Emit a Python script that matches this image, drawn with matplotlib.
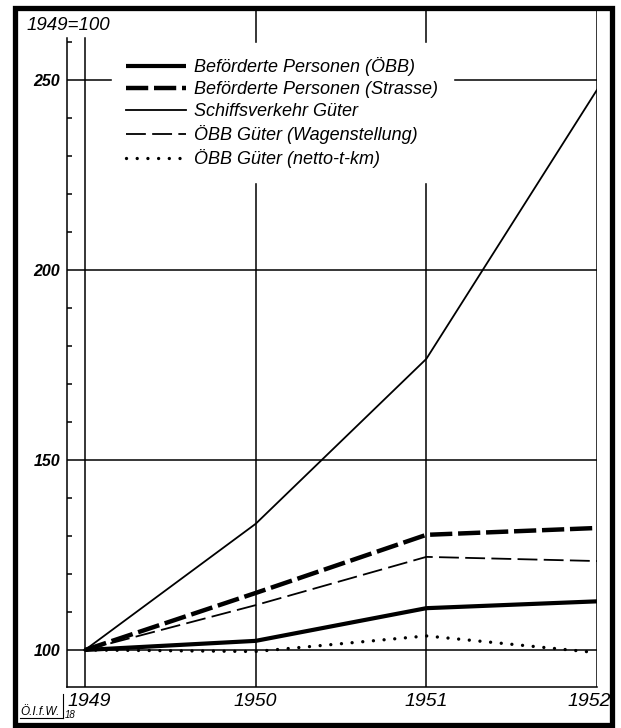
import numpy as np
import matplotlib.pyplot as plt
import matplotlib.transforms as mtransforms
from matplotlib.patches import Rectangle
from matplotlib.lines import Line2D

plt.rcParams['font.family'] = ['Liberation Sans', 'DejaVu Sans']

years = [1949, 1950, 1951, 1952]
personen_oebb = [100, 102.4, 111, 112.8]
personen_strasse = [100, 115, 130.3, 132.1]
schiff_gueter = [100, 133.2, 176.6, 247.4]
oebb_wagen = [100, 111.8, 124.5, 123.4]
oebb_netto = [100, 99.6, 103.7, 99.3]

labels = ['Beförderte Personen (ÖBB)', 'Beförderte Personen (Strasse)',
          'Schiffsverkehr Güter', 'ÖBB Güter (Wagenstellung)',
          'ÖBB Güter (netto-t-km)']
yticks_major = [100, 150, 200, 250]
yticks_minor = [110, 120, 130, 140, 160, 170, 180, 190, 210, 220, 230, 240, 260]

W, H = 621, 728
fig = plt.figure(figsize=(W / 100, H / 100), dpi=100)
ax = fig.add_axes([67 / W, 1 - 687 / H, (597 - 67) / W, (687 - 10) / H])
ax.set_xlim(1949 - 18 / 170.67, 1952)
ax.set_ylim(90.26, 268.4)

# grid
for v in yticks_major:
    ax.axhline(v, color='black', lw=1.1, zorder=1)
for yr in years[1:]:
    ax.axvline(yr, color='black', lw=1.1, zorder=1)
ax.plot([1949, 1949], [90.26, 261], color='black', lw=1.1, zorder=1)

ax.plot(years, personen_oebb, color='black', lw=3.0, solid_capstyle='butt',
        label=labels[0], zorder=3)
ax.plot(years, personen_strasse, color='black', lw=3.2,
        linestyle=(0, (5.0, 1.3)), label=labels[1], zorder=3)
ax.plot(years, schiff_gueter, color='black', lw=1.3, label=labels[2], zorder=3)
ax.plot(years, oebb_wagen, color='black', lw=1.3,
        linestyle=(0, (11, 3.5)), label=labels[3], zorder=3)
ax.plot(years, oebb_netto, color='black', lw=2.4,
        linestyle=(0, (0.01, 3.2)), dash_capstyle='round', label=labels[4], zorder=3)

for s in ['top', 'right']:
    ax.spines[s].set_visible(False)
ax.spines['left'].set_bounds(90.26, 261)
ax.spines['left'].set_linewidth(1.1)
ax.spines['bottom'].set_linewidth(1.1)

ax.set_yticks(yticks_major)
ax.set_yticks(yticks_minor, minor=True)
ax.tick_params(axis='y', which='major', length=0, pad=5, labelsize=11.5)
ax.tick_params(axis='y', which='minor', direction='in', length=3.6, width=1.1)
for t in ax.get_yticklabels():
    t.set_fontstyle('italic')
    t.set_fontweight('bold')

ax.set_xticks(years)
ax.set_xticklabels([str(y) for y in years])
ax.tick_params(axis='x', length=0, pad=4, labelsize=14)
xl = ax.get_xticklabels()
for t in xl:
    t.set_fontstyle('italic')
xl[0].set_transform(xl[0].get_transform() + mtransforms.ScaledTranslation(4 / 100, 0, fig.dpi_scale_trans))
xl[-1].set_transform(xl[-1].get_transform() + mtransforms.ScaledTranslation(-8 / 100, 0, fig.dpi_scale_trans))

leg = ax.legend(loc='upper left', bbox_to_anchor=(112 / W, 1 - 43 / H),
                bbox_transform=fig.transFigure, borderaxespad=0,
                borderpad=0.8, handlelength=3.3, handletextpad=0.45,
                labelspacing=0.27, fancybox=False, framealpha=1,
                prop={'style': 'italic', 'size': 13})
leg.get_frame().set_edgecolor('white')
leg.get_frame().set_facecolor('white')
leg.set_zorder(5)

fig.text(27 / W, 1 - 25 / H, '1949=100', fontsize=13.5, style='italic',
         va='center', ha='left')
fig.text(20 / W, 1 - 712 / H, 'Ö.I.f.W.', fontsize=8.5, style='italic',
         va='center', ha='left')
fig.text(65 / W, 1 - 715 / H, '18', fontsize=7, style='italic',
         va='center', ha='left')
fig.add_artist(Line2D([20 / W, 63 / W], [1 - 718 / H, 1 - 718 / H],
                      transform=fig.transFigure, color='black', lw=0.8))
fig.add_artist(Line2D([63 / W, 63 / W], [1 - 718 / H, 1 - 694 / H],
                      transform=fig.transFigure, color='black', lw=0.8))

fig.add_artist(Rectangle((14.5 / W, 1 - 725 / H), (612 - 14.5) / W, (725 - 8) / H,
                         transform=fig.transFigure, fill=False,
                         edgecolor='black', lw=3.8, zorder=10))

fig.savefig('out.png', dpi=100)
